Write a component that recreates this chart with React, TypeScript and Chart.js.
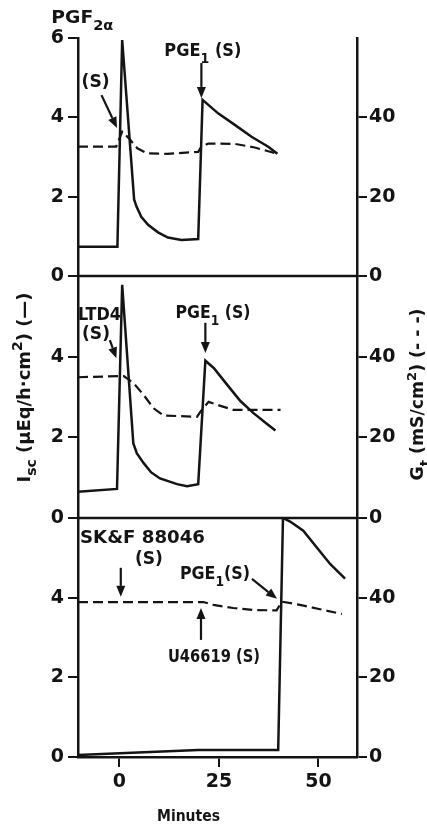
import React, { useEffect, useRef } from 'react';
import { Chart, registerables } from 'chart.js';

Chart.register(...registerables);

const FONT = '"DejaVu Sans", "Liberation Sans", Arial, sans-serif';
const INK = '#141414';

// ---------- data (x = minutes) ----------
// Panel A: PGF2α
const aIscMin = [-10.4, -0.5, 0.7, 3.7, 4.3, 5.5, 7.2, 9.7, 12.2, 15.6, 19.8, 20.9, 24.8, 29.0, 33.2, 37.4, 39.7];
const aIscVal = [0.74, 0.74, 5.95, 1.93, 1.75, 1.49, 1.29, 1.10, 0.97, 0.91, 0.93, 4.44, 4.10, 3.81, 3.51, 3.26, 3.08];
const aGtMin = [-10.4, -0.8, 0.7, 2.4, 4.5, 7.0, 12.0, 19.8, 20.6, 22.3, 29.0, 34.0, 39.7];
const aGtVal = [32.6, 32.6, 36.4, 34.7, 32.2, 30.9, 30.8, 31.3, 32.6, 33.4, 33.3, 32.4, 30.8];

// Panel B: LTD4
const bIscMin = [-10.4, -0.6, 0.7, 3.5, 4.4, 6.1, 8.0, 10.2, 14.5, 17.0, 19.8, 21.6, 23.7, 27.1, 30.4, 33.7, 37.1, 39.2];
const bIscVal = [0.65, 0.72, 5.78, 1.85, 1.60, 1.36, 1.13, 0.98, 0.84, 0.79, 0.84, 3.90, 3.72, 3.30, 2.90, 2.60, 2.33, 2.17];
const bGtMin = [-10.4, 1.1, 3.6, 6.1, 8.6, 11.1, 19.5, 20.4, 22.4, 25.4, 28.7, 40.5];
const bGtVal = [34.9, 35.2, 33.4, 30.5, 27.2, 25.4, 25.1, 26.4, 28.8, 27.8, 26.8, 26.8];

// Panel C: SK&F 88046 / U46619
const cIscMin = [-10.4, 19.8, 39.9, 41.1, 42.9, 46.2, 49.6, 53.0, 56.7];
const cIscVal = [0.05, 0.175, 0.175, 6.0, 5.91, 5.68, 5.26, 4.84, 4.48];
const cGtMin = [-10.4, 21.1, 23.6, 28.6, 33.7, 39.5, 40.8, 45.4, 50.4, 55.9];
const cGtVal = [38.9, 38.9, 38.2, 37.4, 36.9, 36.8, 39.0, 38.2, 37.1, 35.9];

// ---------- ticks ----------
const xTicks = [0, 25, 50];
const iscTicksTop = [0, 2, 4, 6];
const iscTicks = [0, 2, 4];
const gtTicks = [0, 20, 40];

type Part = { t: string; sub?: boolean; sup?: boolean };
type Label = { axis: string; m: number; v: number; parts: Part[]; w: number };
type Arrow = { axis: string; m0: number; v0: number; m1: number; v1: number };

const PGE1S: Part[] = [{ t: 'PGE' }, { t: '1', sub: true }, { t: ' (S)' }];

const labels: Label[] = [
  { axis: 'yA', m: -17.1, v: 6.54, parts: [{ t: 'PGF' }, { t: '2α', sub: true }], w: 62 },
  { axis: 'yA', m: -9.5, v: 4.92, parts: [{ t: '(S)' }], w: 28 },
  { axis: 'yA', m: 11.3, v: 5.7, parts: PGE1S, w: 77 },
  { axis: 'yB', m: -10.4, v: 5.08, parts: [{ t: 'LTD4' }], w: 43 },
  { axis: 'yB', m: -9.4, v: 4.59, parts: [{ t: '(S)' }], w: 28 },
  { axis: 'yB', m: 14.1, v: 5.11, parts: PGE1S, w: 75 },
  { axis: 'yC', m: -9.9, v: 5.53, parts: [{ t: 'SK&F 88046' }], w: 125 },
  { axis: 'yC', m: 3.9, v: 5.0, parts: [{ t: '(S)' }], w: 28 },
  { axis: 'yC', m: 15.2, v: 4.62, parts: [{ t: 'PGE' }, { t: '1', sub: true }, { t: '(S)' }], w: 70 },
  { axis: 'yC', m: 12.2, v: 2.56, parts: [{ t: 'U46619 (S)' }], w: 92 },
];

const arrows: Arrow[] = [
  { axis: 'yA', m0: -4.5, v0: 4.56, m1: -0.6, v1: 3.73 },
  { axis: 'yA', m0: 20.6, v0: 5.37, m1: 20.6, v1: 4.49 },
  { axis: 'yB', m0: -2.4, v0: 4.41, m1: -0.75, v1: 3.96 },
  { axis: 'yB', m0: 21.6, v0: 4.84, m1: 21.6, v1: 4.09 },
  { axis: 'yC', m0: 0.35, v0: 4.75, m1: 0.35, v1: 4.02 },
  { axis: 'yC', m0: 33.3, v0: 4.47, m1: 39.6, v1: 3.97 },
  { axis: 'yC', m0: 20.5, v0: 2.94, m1: 20.5, v1: 3.74 },
];

const yTitle: Part[] = [{ t: 'I' }, { t: 'sc', sub: true }, { t: ' (μEq/h·cm' }, { t: '2', sup: true }, { t: ') (—)' }];
const gTitle: Part[] = [{ t: 'G' }, { t: 't', sub: true }, { t: ' (mS/cm' }, { t: '2', sup: true }, { t: ') (- - -)' }];

const pts = (xs: number[], ys: number[]) => xs.map((x, i) => ({ x, y: ys[i] }));

function fontFor(p: Part, size: number) {
  const s = p.sub || p.sup ? Math.round(size * 0.78) : size;
  return `bold ${s}px ${FONT}`;
}

function drawRich(ctx: CanvasRenderingContext2D, parts: Part[], x: number, baseline: number, size: number, targetW: number, center = false) {
  const widths = parts.map((p) => {
    ctx.font = fontFor(p, size);
    return ctx.measureText(p.t).width;
  });
  const total = widths.reduce((a, b) => a + b, 0);
  const sx = targetW / total;
  ctx.save();
  ctx.translate(center ? x - targetW / 2 : x, baseline);
  ctx.scale(sx, 1);
  ctx.textAlign = 'left';
  ctx.textBaseline = 'alphabetic';
  ctx.fillStyle = INK;
  let cx = 0;
  parts.forEach((p, i) => {
    ctx.font = fontFor(p, size);
    const dy = p.sub ? size * 0.36 : p.sup ? -size * 0.42 : 0;
    ctx.fillText(p.t, cx, dy);
    cx += widths[i];
  });
  ctx.restore();
}

function drawArrow(ctx: CanvasRenderingContext2D, x0: number, y0: number, x1: number, y1: number) {
  const ang = Math.atan2(y1 - y0, x1 - x0);
  const hl = 11;
  const hw = 4.5;
  const bx = x1 - hl * Math.cos(ang);
  const by = y1 - hl * Math.sin(ang);
  ctx.save();
  ctx.strokeStyle = INK;
  ctx.fillStyle = INK;
  ctx.lineWidth = 2.2;
  ctx.beginPath();
  ctx.moveTo(x0, y0);
  ctx.lineTo(bx, by);
  ctx.stroke();
  ctx.beginPath();
  ctx.moveTo(x1, y1);
  ctx.lineTo(bx + hw * Math.sin(ang), by - hw * Math.cos(ang));
  ctx.lineTo(bx - hw * Math.sin(ang), by + hw * Math.cos(ang));
  ctx.closePath();
  ctx.fill();
  ctx.restore();
}

const overlay = {
  id: 'overlay',
  afterDraw(chart: any) {
    const { ctx, chartArea, scales } = chart;
    const x = scales.x;
    // panel separators
    ctx.save();
    ctx.strokeStyle = INK;
    ctx.lineWidth = 2.5;
    ['yA', 'yB'].forEach((id) => {
      const y = scales[id].getPixelForValue(0);
      ctx.beginPath();
      ctx.moveTo(chartArea.left, y);
      ctx.lineTo(chartArea.right, y);
      ctx.stroke();
    });
    ctx.restore();

    const AS = 18;
    labels.forEach((l) => {
      const px = x.getPixelForValue(l.m);
      const py = scales[l.axis].getPixelForValue(l.v) + AS * 0.36;
      drawRich(ctx, l.parts, px, py, AS, l.w);
    });
    arrows.forEach((a) => {
      const s = scales[a.axis];
      drawArrow(ctx, x.getPixelForValue(a.m0), s.getPixelForValue(a.v0), x.getPixelForValue(a.m1), s.getPixelForValue(a.v1));
    });

    // axis titles
    const cy = (chartArea.top + chartArea.bottom) / 2;
    ctx.save();
    ctx.translate(chartArea.left - 48, cy - 10);
    ctx.rotate(-Math.PI / 2);
    drawRich(ctx, yTitle, 0, 0, 18, 190, true);
    ctx.restore();

    ctx.save();
    ctx.translate(chartArea.right + 66, cy - 3);
    ctx.rotate(-Math.PI / 2);
    drawRich(ctx, gTitle, 0, 0, 17, 172, true);
    ctx.restore();

    drawRich(ctx, [{ t: 'Minutes' }], (chartArea.left + chartArea.right) / 2 - 29, chartArea.bottom + 64, 16, 63, true);
  },
};

const tickFont = { family: FONT, size: 19, weight: 'bold' as const };

function leftScale(weight: number, ticks: number[], stackWeight: number) {
  return {
    type: 'linear' as const,
    position: 'left' as const,
    stack: 'L',
    stackWeight,
    weight,
    min: 0,
    max: 6,
    afterBuildTicks: (s: any) => {
      s.ticks = ticks.map((v) => ({ value: v }));
    },
    afterFit: (s: any) => {
      s.width = 78;
    },
    grid: { drawOnChartArea: false, drawTicks: true, tickLength: 10, color: INK, lineWidth: 2 },
    border: { display: true, color: INK, width: 2.5 },
    ticks: { color: INK, font: tickFont, padding: 4, autoSkip: false },
  };
}

function rightScale(weight: number, stackWeight: number) {
  return {
    type: 'linear' as const,
    position: 'right' as const,
    stack: 'R',
    stackWeight,
    weight,
    min: 0,
    max: 60,
    afterBuildTicks: (s: any) => {
      s.ticks = gtTicks.map((v) => ({ value: v }));
    },
    afterFit: (s: any) => {
      s.width = 70;
    },
    grid: { drawOnChartArea: false, drawTicks: true, tickLength: 10, color: INK, lineWidth: 2 },
    border: { display: true, color: INK, width: 2.5 },
    ticks: { color: INK, font: tickFont, padding: 2, autoSkip: false },
  };
}

export default function App() {
  const ref = useRef<HTMLCanvasElement | null>(null);
  useEffect(() => {
    if (!ref.current) return;
    const solid = (data: any, id: string) => ({
      data,
      yAxisID: id,
      borderColor: INK,
      borderWidth: 2.5,
      pointRadius: 0,
      tension: 0,
      fill: false,
    });
    const dashed = (data: any, id: string) => ({
      data,
      yAxisID: id,
      borderColor: INK,
      borderWidth: 2.2,
      borderDash: [10, 5],
      pointRadius: 0,
      tension: 0,
      fill: false,
    });
    const chart = new Chart(ref.current, {
      type: 'line',
      data: {
        datasets: [
          solid(pts(aIscMin, aIscVal), 'yA'),
          dashed(pts(aGtMin, aGtVal), 'gA'),
          solid(pts(bIscMin, bIscVal), 'yB'),
          dashed(pts(bGtMin, bGtVal), 'gB'),
          solid(pts(cIscMin, cIscVal), 'yC'),
          dashed(pts(cGtMin, cGtVal), 'gC'),
        ],
      },
      options: {
        responsive: false,
        animation: false,
        devicePixelRatio: 1,
        layout: { padding: { top: 38, bottom: 28, left: 0, right: 0 } },
        plugins: { legend: { display: false }, tooltip: { enabled: false }, title: { display: false } },
        scales: {
          x: {
            type: 'linear',
            position: 'bottom',
            min: -10.4,
            max: 59.7,
            afterBuildTicks: (s: any) => {
              s.ticks = xTicks.map((v) => ({ value: v }));
            },
            afterFit: (s: any) => {
              s.height = 40;
            },
            grid: { drawOnChartArea: false, drawTicks: true, tickLength: 10, color: INK, lineWidth: 2 },
            border: { display: true, color: INK, width: 2.5 },
            ticks: { color: INK, font: tickFont, padding: 4, maxRotation: 0, autoSkip: false },
          },
          yA: leftScale(3, iscTicksTop, 238),
          yB: leftScale(2, iscTicks, 242),
          yC: leftScale(1, iscTicks, 239),
          gA: rightScale(1, 238),
          gB: rightScale(2, 242),
          gC: rightScale(3, 239),
        } as any,
      },
      plugins: [overlay],
    } as any);
    return () => chart.destroy();
  }, []);
  return (
    <div style={{ position: 'fixed', left: 0, top: 0, width: 427, height: 825, background: '#fff' }}>
      <canvas ref={ref} width={427} height={825} style={{ display: 'block', width: 427, height: 825 }} />
    </div>
  );
}
